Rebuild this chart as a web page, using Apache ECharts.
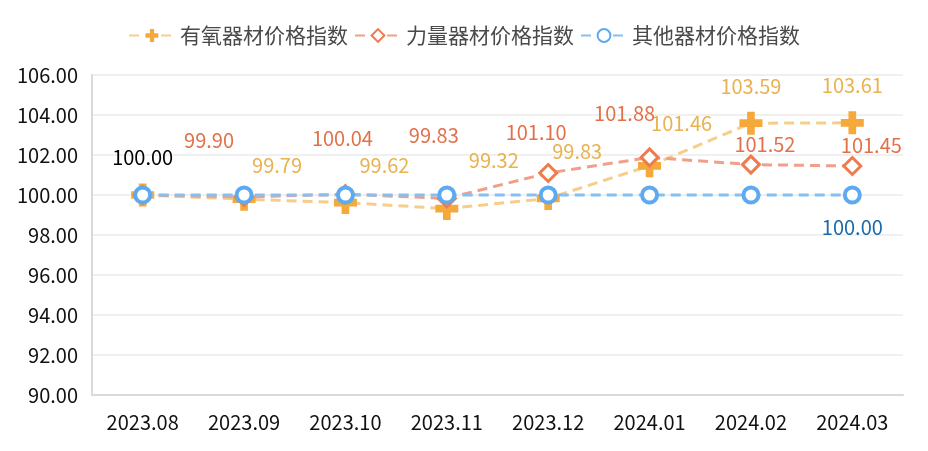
<!DOCTYPE html>
<html><head><meta charset="utf-8">
<script src="https://cdn.jsdelivr.net/npm/echarts@6/dist/echarts.min.js"></script>
<style>html,body{margin:0;padding:0;background:#fff}#c{width:928px;height:451px}</style>
</head><body><div id="c"></div>
<script>
var categories = ['2023.08','2023.09','2023.10','2023.11','2023.12','2024.01','2024.02','2024.03'];
var seriesNames = ['有氧器材价格指数','力量器材价格指数','其他器材价格指数'];
var aerobic = [100.00, 99.79, 99.62, 99.32, 99.83, 101.46, 103.59, 103.61];
var strength = [100.00, 99.90, 100.04, 99.83, 101.10, 101.88, 101.52, 101.45];
var other = [100.00, 100.00, 100.00, 100.00, 100.00, 100.00, 100.00, 100.00];
var yTicks = {min: 90, max: 106, interval: 2};

// label placement (styling, not data)
var aeroOff = [[0,-38],[33,-34],[39,-37],[47,-48],[29,-47],[32,-42],[0,-37],[0,-37]];
var strOff = [null,[-35,-57],[-3,-56],[-13,-63],[-12,-41],[-25,-44],[14,-20],[19,-21]];
var othOff = [null,null,null,null,null,null,null,[0,32]];

var FONT = '"Microsoft YaHei","Noto Sans CJK SC","Noto Sans",sans-serif';
function build(vals, offs, color, firstColor){
  return vals.map(function(v,i){
    var o = offs[i];
    if(!o) return {value:v, label:{show:false}};
    return {value:v, label:{show:true, position:'inside', offset:o, align:'center', verticalAlign:'middle',
      color:(i===0 && firstColor)?firstColor:color, fontSize:20, fontFamily:FONT,
      formatter:function(p){return Number(p.value).toFixed(2);}}};
  });
}
var plus = 'path://M4,0 H8 V4 H12 V8 H8 V12 H4 V8 H0 V4 H4 Z';
var chart = echarts.init(document.getElementById('c'));
chart.setOption({
  animation:false,
  backgroundColor:'#fff',
  legend:{top:20, left:'center', itemWidth:46, itemHeight:16, itemGap:6,
    textStyle:{fontSize:21, color:'#4a4a4a', fontFamily:FONT}},
  grid:{left:92, right:25, top:75, bottom:56},
  xAxis:{type:'category', data:categories, boundaryGap:true,
    axisLine:{lineStyle:{color:'#d9d9d9', width:2}}, axisTick:{show:false},
    axisLabel:{fontSize:20, color:'#111', margin:17, fontFamily:FONT}},
  yAxis:{type:'value', min:yTicks.min, max:yTicks.max, interval:yTicks.interval,
    axisLine:{show:true, lineStyle:{color:'#d9d9d9', width:2}}, axisTick:{show:false},
    splitLine:{lineStyle:{color:'#ebebeb', width:1.5}},
    axisLabel:{fontSize:20, color:'#111', margin:14, fontFamily:FONT,
      formatter:function(v){return v.toFixed(2);}}},
  series:[
    {name:seriesNames[0], type:'line', data:build(aerobic, aeroOff, '#e9b24f', '#000'),
     symbol:plus, symbolSize:23, z:2,
     itemStyle:{color:'#f5a93a', borderWidth:0},
     lineStyle:{color:'#f7cd8c', width:3, type:[10,6]}},
    {name:seriesNames[1], type:'line', data:build(strength, strOff, '#e2714a'),
     symbol:'diamond', symbolSize:17, z:3,
     itemStyle:{color:'#fff', borderColor:'#ee7b4c', borderWidth:3},
     lineStyle:{color:'#f0a08a', width:3, type:[10,6]}},
    {name:seriesNames[2], type:'line', data:build(other, othOff, '#1b69ad'),
     symbol:'circle', symbolSize:15, z:4,
     itemStyle:{color:'#fff', borderColor:'#5eaaf0', borderWidth:4},
     lineStyle:{color:'#86c0f0', width:3, type:[10,6]}}
  ]
});
</script></body></html>
